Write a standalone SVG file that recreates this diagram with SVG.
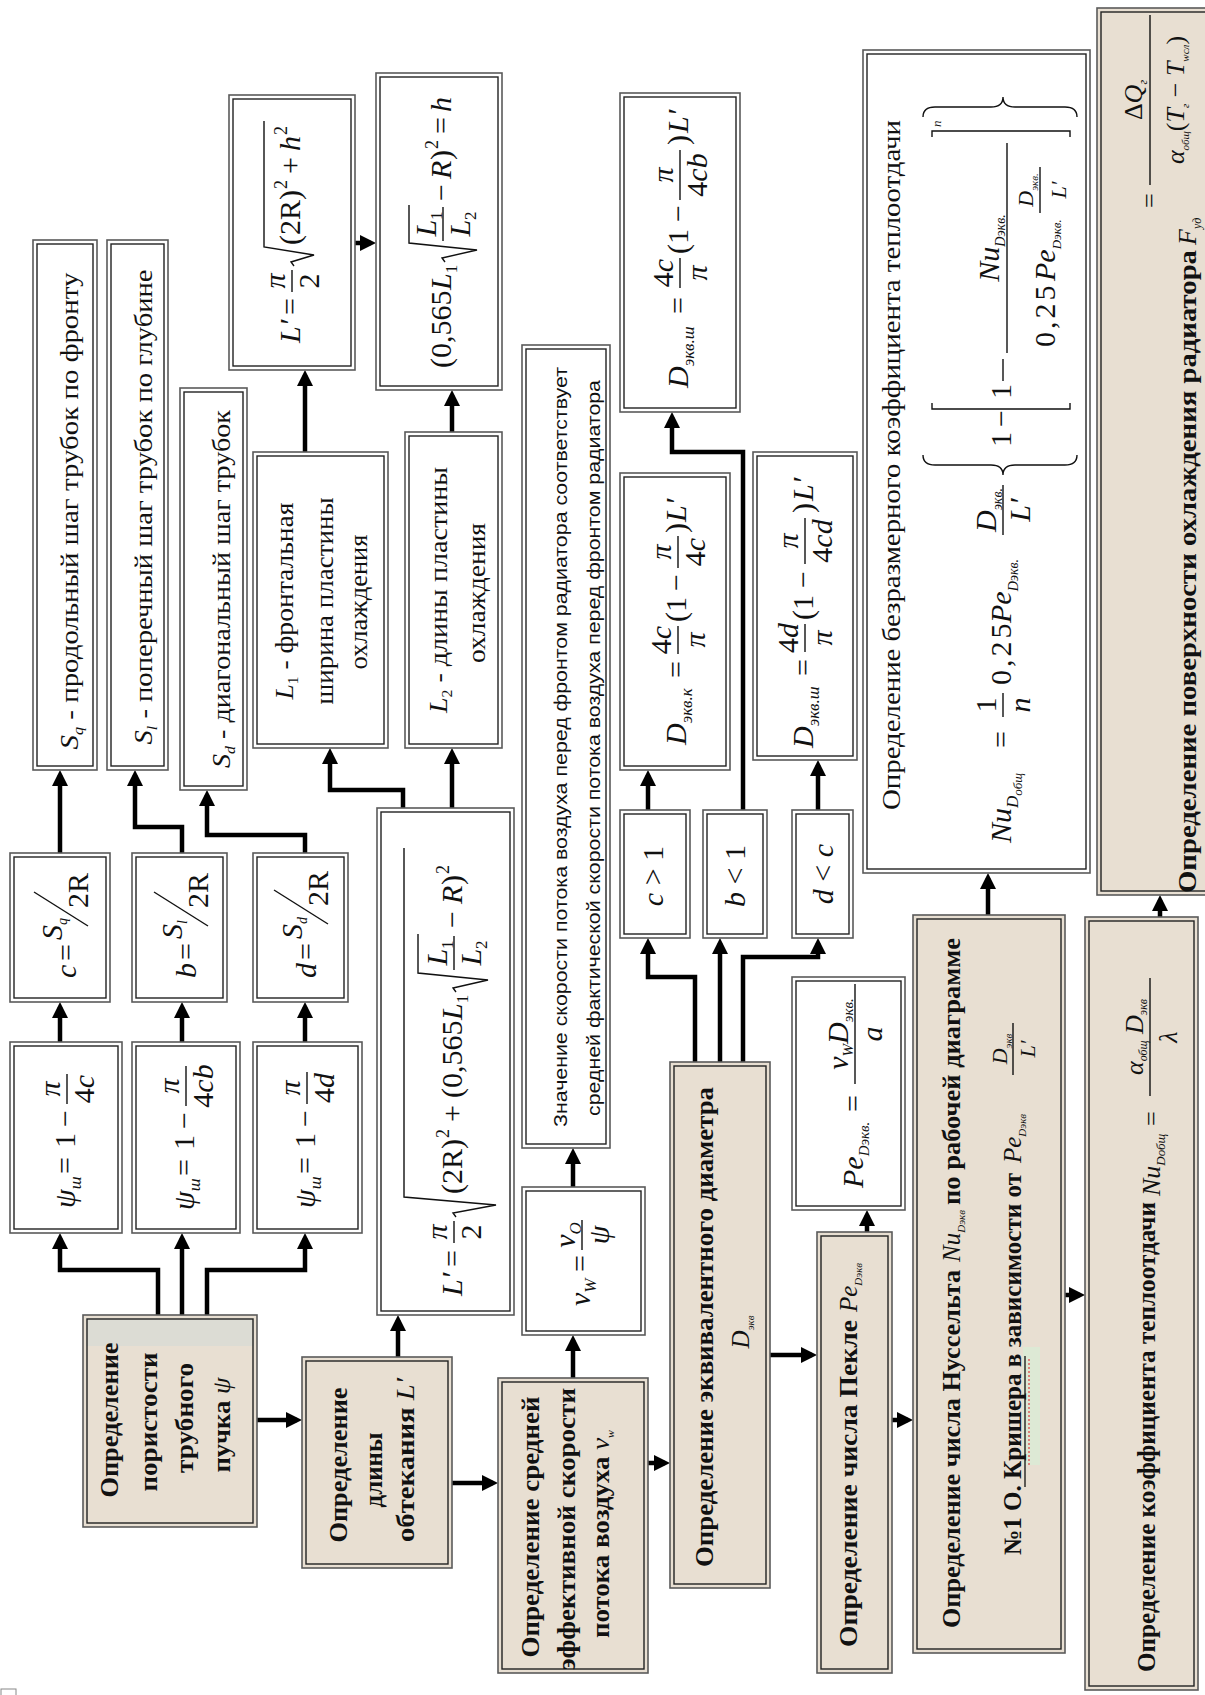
<svg xmlns="http://www.w3.org/2000/svg" width="1205" height="1695" viewBox="0 0 1205 1695">
<defs>
<style>
.o{fill:#fff;stroke:#5a5a5a;stroke-width:1.6}
.tan .o{fill:#e8dfd2}
.i{fill:none;stroke:#222;stroke-width:1.4}
.t{font-family:"Liberation Serif","DejaVu Serif",serif;font-size:25px;fill:#111}
.tb{font-family:"Liberation Serif","DejaVu Serif",serif;font-size:25px;font-weight:bold;fill:#111}
.ts{font-family:"Liberation Sans",Arial,sans-serif;font-size:19px;fill:#111}
.f{font-family:"Liberation Serif","DejaVu Serif",serif;font-size:30px;fill:#111}
.m{font-style:italic}
.fl{stroke:#111;stroke-width:1.4;fill:none}
.conn path{fill:none;stroke:#000;stroke-width:4.5;marker-end:url(#ah)}
</style>
<marker id="ah" viewBox="0 0 16 16" refX="11" refY="8" markerWidth="16" markerHeight="16" markerUnits="userSpaceOnUse" orient="auto"><path d="M0,0 L16,8 L0,16 z" fill="#000"/></marker>
</defs>
<rect x="0" y="0" width="1205" height="1695" fill="#fff"/>

<g id="connectors" class="conn">
<path d="M158,1315 V1270 H60 V1238"/>
<path d="M182,1315 V1238"/>
<path d="M207,1315 V1270 H305 V1238"/>
<path d="M60,1042 V1007"/>
<path d="M182,1042 V1007"/>
<path d="M305,1042 V1007"/>
<path d="M60,853 V775"/>
<path d="M182,853 V827 H135 V775"/>
<path d="M305,853 V835 H207 V795"/>
<path d="M257,1420 H297"/>
<path d="M398,1357 V1320"/>
<path d="M403,808 V790 H330 V753"/>
<path d="M452,808 V753"/>
<path d="M305,452 V375"/>
<path d="M452,432 V395"/>
<path d="M355,243 H371"/>
<path d="M452,1483 H493"/>
<path d="M573,1378 V1340"/>
<path d="M573,1187 V1153"/>
<path d="M648,1463 H665"/>
<path d="M695,1062 V977 H648 V943"/>
<path d="M720,1062 V943"/>
<path d="M743,1062 V957 H818 V943"/>
<path d="M648,810 V775"/>
<path d="M743,810 V452 H672 V417"/>
<path d="M818,810 V765"/>
<path d="M770,1355 H812"/>
<path d="M867,1232 V1215"/>
<path d="M892,1420 H908"/>
<path d="M988,915 V878"/>
<path d="M1065,1295 H1080"/>
<path d="M1160,917 V900"/>
</g>

<g id="n-sq"><rect class="o" x="33" y="240" width="64" height="530"/><rect class="i" x="37" y="244" width="56" height="522"/>
<text class="t" text-anchor="middle" transform="translate(78,511) rotate(-90)" textLength="477" lengthAdjust="spacingAndGlyphs"><tspan font-style="italic">S</tspan><tspan font-style="italic" font-size="14" dy="5">q</tspan><tspan dy="-5"> - продольный шаг трубок по фронту</tspan></text></g>
<g id="n-sl"><rect class="o" x="107" y="240" width="61" height="530"/><rect class="i" x="111" y="244" width="53" height="522"/>
<text class="t" text-anchor="middle" transform="translate(152,507) rotate(-90)" textLength="475" lengthAdjust="spacingAndGlyphs"><tspan font-style="italic">S</tspan><tspan font-style="italic" font-size="14" dy="5">l</tspan><tspan dy="-5"> - поперечный шаг трубок по глубине</tspan></text></g>
<g id="n-sd"><rect class="o" x="180" y="388" width="67" height="402"/><rect class="i" x="184" y="392" width="59" height="394"/>
<text class="t" text-anchor="middle" transform="translate(230,589) rotate(-90)" textLength="358" lengthAdjust="spacingAndGlyphs"><tspan font-style="italic">S</tspan><tspan font-style="italic" font-size="14" dy="5">d</tspan><tspan dy="-5"> - диагональный шаг трубок</tspan></text></g>

<g id="n-l1"><rect class="o" x="253" y="452" width="135" height="296"/><rect class="i" x="257" y="456" width="127" height="288"/>
<text class="t" text-anchor="middle" transform="translate(293,601) rotate(-90)" textLength="197" lengthAdjust="spacingAndGlyphs"><tspan font-style="italic">L</tspan><tspan font-size="14" dy="5">1</tspan><tspan dy="-5"> - фронтальная</tspan></text>
<text class="t" text-anchor="middle" transform="translate(333,601) rotate(-90)" textLength="207" lengthAdjust="spacingAndGlyphs">ширина пластины</text>
<text class="t" text-anchor="middle" transform="translate(367,602) rotate(-90)" textLength="135" lengthAdjust="spacingAndGlyphs">охлаждения</text></g>
<g id="n-l2"><rect class="o" x="405" y="432" width="97" height="316"/><rect class="i" x="409" y="436" width="89" height="308"/>
<text class="t" text-anchor="middle" transform="translate(447,590) rotate(-90)" textLength="246" lengthAdjust="spacingAndGlyphs"><tspan font-style="italic">L</tspan><tspan font-size="14" dy="5">2</tspan><tspan dy="-5"> - длины пластины</tspan></text>
<text class="t" text-anchor="middle" transform="translate(485,593) rotate(-90)" textLength="140" lengthAdjust="spacingAndGlyphs">охлаждения</text></g>

<g id="n-lh"><rect class="o" x="229" y="95" width="126" height="275"/><rect class="i" x="233" y="99" width="118" height="267"/>
<g class="f" transform="translate(300,343) rotate(-90)">
<text class="m">L′</text><text x="28">=</text>
<line class="fl" x1="51" y1="-8" x2="73" y2="-8"/>
<text class="m" x="62" y="-15" text-anchor="middle">π</text><text x="62" y="19" text-anchor="middle">2</text>
<path class="fl" d="M77,-6 L81,-9 L88,14 L96,-36 L222,-36"/>
<text x="98">(2R)</text><text x="154" y="-13" style="font-size:18px">2</text>
<text x="169">+</text><text class="m" x="192">h</text><text x="208" y="-13" style="font-size:18px">2</text>
</g></g>

<g id="n-h"><rect class="o" x="376" y="73" width="126" height="317"/><rect class="i" x="380" y="77" width="118" height="309"/>
<g class="f" transform="translate(451,368) rotate(-90)">
<text>(0,565</text>
<text class="m" x="78">L<tspan style="font-size:17px;font-style:normal" dy="6">1</tspan></text>
<path class="fl" d="M106,-6 L110,-9 L118,26 L125,-42 L163,-42"/>
<line class="fl" x1="127" y1="-8" x2="161" y2="-8"/>
<text class="m" x="144" y="-15" text-anchor="middle">L<tspan style="font-size:17px;font-style:normal" dy="6">1</tspan></text>
<text class="m" x="144" y="19" text-anchor="middle">L<tspan style="font-size:17px;font-style:normal" dy="6">2</tspan></text>
<text x="167">−</text><text class="m" x="189">R</text><text x="208">)</text>
<text x="219" y="-13" style="font-size:18px">2</text>
<text x="234">=</text><text class="m" x="256">h</text>
</g></g>

<g id="n-lbig"><rect class="o" x="377" y="808" width="137" height="507"/><rect class="i" x="381" y="812" width="129" height="499"/>
<g class="f" transform="translate(462,1296) rotate(-90)">
<text class="m">L′</text><text x="29">=</text>
<line class="fl" x1="53" y1="-8" x2="75" y2="-8"/>
<text class="m" x="64" y="-15" text-anchor="middle">π</text><text x="64" y="19" text-anchor="middle">2</text>
<path class="fl" d="M79,-6 L83,-9 L91,34 L99,-58 L448,-58"/>
<text x="102">(2R)</text><text x="158" y="-13" style="font-size:18px">2</text>
<text x="174">+</text><text x="198">(0,565</text>
<text class="m" x="276">L<tspan style="font-size:17px;font-style:normal" dy="6">1</tspan></text>
<path class="fl" d="M304,-6 L308,-9 L316,26 L323,-44 L362,-44"/>
<line class="fl" x1="326" y1="-8" x2="360" y2="-8"/>
<text class="m" x="343" y="-15" text-anchor="middle">L<tspan style="font-size:17px;font-style:normal" dy="6">1</tspan></text>
<text class="m" x="343" y="19" text-anchor="middle">L<tspan style="font-size:17px;font-style:normal" dy="6">2</tspan></text>
<text x="368">−</text><text class="m" x="392">R</text><text x="411">)</text>
<text x="422" y="-13" style="font-size:18px">2</text>
</g></g>

<g id="n-psi-c"><rect class="o" x="10" y="1042" width="112" height="191"/><rect class="i" x="14" y="1046" width="104" height="183"/>
<g class="f" transform="translate(75,1208) rotate(-90)">
<text class="m">ψ<tspan style="font-size:17px" dy="6">ш</tspan></text><text x="34">=</text><text x="60">1</text><text x="81">−</text>
<line class="fl" x1="104" y1="-8" x2="134" y2="-8"/>
<text class="m" x="119" y="-15" text-anchor="middle">π</text>
<text x="119" y="19" text-anchor="middle">4<tspan class="m">c</tspan></text>
</g></g>
<g id="n-psi-b"><rect class="o" x="132" y="1042" width="108" height="191"/><rect class="i" x="136" y="1046" width="100" height="183"/>
<g class="f" transform="translate(194,1210) rotate(-90)">
<text class="m">ψ<tspan style="font-size:17px" dy="6">ш</tspan></text><text x="34">=</text><text x="60">1</text><text x="81">−</text>
<line class="fl" x1="104" y1="-8" x2="144" y2="-8"/>
<text class="m" x="124" y="-15" text-anchor="middle">π</text>
<text x="124" y="19" text-anchor="middle">4<tspan class="m">cb</tspan></text>
</g></g>
<g id="n-psi-d"><rect class="o" x="253" y="1042" width="109" height="191"/><rect class="i" x="257" y="1046" width="101" height="183"/>
<g class="f" transform="translate(315,1208) rotate(-90)">
<text class="m">ψ<tspan style="font-size:17px" dy="6">ш</tspan></text><text x="34">=</text><text x="60">1</text><text x="81">−</text>
<line class="fl" x1="104" y1="-8" x2="136" y2="-8"/>
<text class="m" x="120" y="-15" text-anchor="middle">π</text>
<text x="120" y="19" text-anchor="middle">4<tspan class="m">d</tspan></text>
</g></g>

<g id="n-c"><rect class="o" x="10" y="853" width="100" height="149"/><rect class="i" x="14" y="857" width="92" height="141"/>
<g class="f" transform="translate(76,978) rotate(-90)">
<text class="m">c</text><text x="17">=</text>
<text class="m" x="38" y="-14">S<tspan style="font-size:14px" dy="5">q</tspan></text>
<line class="fl" x1="52" y1="12" x2="86" y2="-42"/>
<text x="70" y="12">2R</text>
</g></g>
<g id="n-b"><rect class="o" x="132" y="853" width="95" height="149"/><rect class="i" x="136" y="857" width="87" height="141"/>
<g class="f" transform="translate(196,978) rotate(-90)">
<text class="m">b</text><text x="18">=</text>
<text class="m" x="39" y="-14">S<tspan style="font-size:14px" dy="5">l</tspan></text>
<line class="fl" x1="52" y1="12" x2="86" y2="-42"/>
<text x="70" y="12">2R</text>
</g></g>
<g id="n-d"><rect class="o" x="253" y="853" width="95" height="149"/><rect class="i" x="257" y="857" width="87" height="141"/>
<g class="f" transform="translate(316,978) rotate(-90)">
<text class="m">d</text><text x="18">=</text>
<text class="m" x="39" y="-14">S<tspan style="font-size:14px" dy="5">d</tspan></text>
<line class="fl" x1="54" y1="12" x2="88" y2="-42"/>
<text x="72" y="12">2R</text>
</g></g>

<g id="n-porosity" class="tan"><rect class="o" x="83" y="1315" width="174" height="212"/><rect x="86" y="1318" width="168" height="28" fill="#dcdcd4"/><rect class="i" x="87" y="1319" width="166" height="204"/>
<text class="tb" text-anchor="middle" transform="translate(118,1420) rotate(-90)" textLength="155" lengthAdjust="spacingAndGlyphs">Определение</text>
<text class="tb" text-anchor="middle" transform="translate(157,1422) rotate(-90)" textLength="139" lengthAdjust="spacingAndGlyphs">пористости</text>
<text class="tb" text-anchor="middle" transform="translate(193,1418) rotate(-90)" textLength="110" lengthAdjust="spacingAndGlyphs">трубного</text>
<text class="tb" text-anchor="middle" transform="translate(230,1425) rotate(-90)" textLength="95" lengthAdjust="spacingAndGlyphs">пучка <tspan font-style="italic" font-weight="normal">ψ</tspan></text>
</g>
<g id="n-length" class="tan"><rect class="o" x="302" y="1357" width="150" height="211"/><rect class="i" x="306" y="1361" width="142" height="203"/>
<text class="tb" text-anchor="middle" transform="translate(347,1465) rotate(-90)" textLength="155" lengthAdjust="spacingAndGlyphs">Определение</text>
<text class="tb" text-anchor="middle" transform="translate(382,1470) rotate(-90)">длины</text>
<text class="tb" text-anchor="middle" transform="translate(414,1460) rotate(-90)" textLength="164" lengthAdjust="spacingAndGlyphs">обтекания <tspan font-style="italic" font-weight="normal">L′</tspan></text>
</g>
<g id="n-vw" class="tan"><rect class="o" x="498" y="1378" width="150" height="295"/><rect class="i" x="502" y="1382" width="142" height="287"/>
<text class="tb" text-anchor="middle" transform="translate(539,1527) rotate(-90)" textLength="261" lengthAdjust="spacingAndGlyphs">Определение средней</text>
<text class="tb" text-anchor="middle" transform="translate(575,1529) rotate(-90)" textLength="282" lengthAdjust="spacingAndGlyphs">эффективной скорости</text>
<text class="tb" text-anchor="middle" transform="translate(609,1534) rotate(-90)" textLength="208" lengthAdjust="spacingAndGlyphs">потока воздуха <tspan font-style="italic" font-weight="normal">v</tspan><tspan font-style="italic" font-weight="normal" font-size="11" dy="5">w</tspan></text>
</g>
<g id="n-dekv" class="tan"><rect class="o" x="670" y="1062" width="100" height="526"/><rect class="i" x="674" y="1066" width="92" height="518"/>
<text class="tb" text-anchor="middle" transform="translate(713,1327) rotate(-90)" textLength="480" lengthAdjust="spacingAndGlyphs">Определение эквивалентного диаметра</text>
<text class="t" font-style="italic" text-anchor="middle" transform="translate(749,1332) rotate(-90)">D<tspan font-size="11" dy="5">экв</tspan></text>
</g>
<g id="n-pe" class="tan"><rect class="o" x="817" y="1232" width="75" height="441"/><rect class="i" x="821" y="1236" width="67" height="433"/>
<text class="tb" transform="translate(857,1647) rotate(-90)" textLength="327" lengthAdjust="spacingAndGlyphs">Определение числа Пекле</text>
<text class="t" font-style="italic" transform="translate(857,1312) rotate(-90)">Pe<tspan font-size="11" dy="5">Dэкв</tspan></text>
</g>
<g id="n-nusselt" class="tan"><rect class="o" x="913" y="915" width="152" height="738"/><rect class="i" x="917" y="919" width="144" height="730"/>
<text class="tb" transform="translate(960,1628) rotate(-90)" textLength="358" lengthAdjust="spacingAndGlyphs">Определение числа Нуссельта</text>
<text class="t" font-style="italic" transform="translate(960,1262) rotate(-90)">Nu<tspan font-size="11" dy="5">Dэкв</tspan></text>
<text class="tb" transform="translate(960,1205) rotate(-90)" textLength="267" lengthAdjust="spacingAndGlyphs">по рабочей диаграмме</text>
<rect x="1023" y="1347" width="17" height="118" fill="#d9ecd5" opacity="0.7"/>
<text class="tb" transform="translate(1021,1555) rotate(-90)" textLength="382" lengthAdjust="spacingAndGlyphs">№1 О. Кришера в зависимости от</text>
<line x1="1025" y1="1487" x2="1025" y2="1356" stroke="#111" stroke-width="1.3"/>
<line x1="1029" y1="1465" x2="1029" y2="1358" stroke="#e04848" stroke-width="1.3" stroke-dasharray="2,2"/>
<text class="t" font-style="italic" font-size="24" transform="translate(1021,1163) rotate(-90)">Pe<tspan font-size="11" dy="5">Dэкв</tspan></text>
<g class="f" style="font-size:22px" transform="translate(1021,1075) rotate(-90)">
<line class="fl" x1="0" y1="-8" x2="52" y2="-8"/>
<text class="m" x="26" y="-14" text-anchor="middle">D<tspan style="font-size:11px" dy="5">экв</tspan></text>
<text class="m" x="26" y="14" text-anchor="middle">L′</text>
</g>
</g>
<g id="n-alpha" class="tan"><rect class="o" x="1085" y="917" width="113" height="773"/><rect class="i" x="1089" y="921" width="105" height="765"/>
<text class="tb" transform="translate(1155,1672) rotate(-90)" textLength="470" lengthAdjust="spacingAndGlyphs">Определение коэффициента теплоотдачи</text>
<g class="f" style="font-size:26px" transform="translate(1160,1196) rotate(-90)">
<text class="m">Nu<tspan style="font-size:13px" dy="5">Dобщ</tspan></text>
<text x="70">=</text>
<line class="fl" x1="100" y1="-10" x2="218" y2="-10"/>
<text class="m" x="159" y="-17" text-anchor="middle">α<tspan style="font-size:12px" dy="4">общ</tspan><tspan dy="-4"> D</tspan><tspan style="font-size:12px" dy="4">экв</tspan></text>
<text class="m" x="159" y="17" text-anchor="middle">λ</text>
</g>
</g>
<g id="n-F" class="tan"><rect class="o" x="1097" y="8" width="130" height="887"/><rect class="i" x="1101" y="12" width="122" height="879"/>
<text class="tb" transform="translate(1196,893) rotate(-90)" textLength="643" lengthAdjust="spacingAndGlyphs">Определение поверхности охлаждения радиатора</text>
<g class="f" style="font-size:26px" transform="translate(1196,245) rotate(-90)">
<text class="m">F<tspan style="font-size:12px" dy="5">уд</tspan></text>
<text x="37" y="-38">=</text>
<line class="fl" x1="60" y1="-46" x2="230" y2="-46"/>
<text x="145" y="-54" text-anchor="middle">Δ<tspan class="m">Q</tspan><tspan class="m" style="font-size:12px" dy="5">г</tspan></text>
<text x="145" y="-12" text-anchor="middle"><tspan class="m">α</tspan><tspan class="m" style="font-size:11px" dy="5">общ</tspan><tspan dy="-5">(</tspan><tspan class="m">T</tspan><tspan class="m" style="font-size:11px" dy="5">г</tspan><tspan dy="-5"> − </tspan><tspan class="m">T</tspan><tspan class="m" style="font-size:11px" dy="5">wсл</tspan><tspan dy="-5">)</tspan></text>
</g>
</g>

<g id="n-znach"><rect class="o" x="522" y="345" width="88" height="803"/><rect class="i" x="526" y="349" width="80" height="795"/>
<text class="ts" text-anchor="middle" transform="translate(567,747) rotate(-90)" textLength="760" lengthAdjust="spacingAndGlyphs">Значение скорости потока воздуха перед фронтом радиатора соответствует</text>
<text class="ts" text-anchor="middle" transform="translate(600,748) rotate(-90)" textLength="736" lengthAdjust="spacingAndGlyphs">средней фактической скорости потока воздуха перед фронтом радиатора</text>
</g>

<g id="n-vwf"><rect class="o" x="522" y="1187" width="123" height="148"/><rect class="i" x="526" y="1191" width="115" height="140"/>
<g class="f" transform="translate(590,1306) rotate(-90)">
<text class="m">v<tspan style="font-size:17px" dy="6">W</tspan></text>
<text x="34">=</text>
<line class="fl" x1="56" y1="-8" x2="86" y2="-8"/>
<text class="m" x="71" y="-15" text-anchor="middle">v<tspan style="font-size:17px" dy="6">O</tspan></text>
<text class="m" x="71" y="19" text-anchor="middle">ψ</text>
</g></g>

<g id="n-dk"><rect class="o" x="620" y="473" width="110" height="297"/><rect class="i" x="624" y="477" width="102" height="289"/>
<g class="f" transform="translate(686,745) rotate(-90)">
<text class="m">D<tspan style="font-size:17px" dy="6">экв.к</tspan></text>
<text x="67">=</text>
<line class="fl" x1="91" y1="-8" x2="119" y2="-8"/>
<text x="105" y="-15" text-anchor="middle">4<tspan class="m">c</tspan></text>
<text class="m" x="105" y="19" text-anchor="middle">π</text>
<text x="123">(1</text><text x="154">−</text>
<line class="fl" x1="177" y1="-8" x2="209" y2="-8"/>
<text class="m" x="193" y="-15" text-anchor="middle">π</text>
<text x="193" y="19" text-anchor="middle">4<tspan class="m">c</tspan></text>
<text x="212">)</text><text class="m" x="223">L′</text>
</g></g>
<g id="n-dsh1"><rect class="o" x="620" y="93" width="120" height="319"/><rect class="i" x="624" y="97" width="112" height="311"/>
<g class="f" transform="translate(688,388) rotate(-90)">
<text class="m">D<tspan style="font-size:17px" dy="6">экв.ш</tspan></text>
<text x="74">=</text>
<line class="fl" x1="100" y1="-8" x2="130" y2="-8"/>
<text x="115" y="-15" text-anchor="middle">4<tspan class="m">c</tspan></text>
<text class="m" x="115" y="19" text-anchor="middle">π</text>
<text x="134">(1</text><text x="166">−</text>
<line class="fl" x1="188" y1="-8" x2="238" y2="-8"/>
<text class="m" x="213" y="-15" text-anchor="middle">π</text>
<text x="213" y="19" text-anchor="middle">4<tspan class="m">cb</tspan></text>
<text x="243">)</text><text class="m" x="255">L′</text>
</g></g>
<g id="n-dsh2"><rect class="o" x="753" y="452" width="104" height="308"/><rect class="i" x="757" y="456" width="96" height="300"/>
<g class="f" transform="translate(813,748) rotate(-90)">
<text class="m">D<tspan style="font-size:17px" dy="6">экв.ш</tspan></text>
<text x="72">=</text>
<line class="fl" x1="96" y1="-8" x2="124" y2="-8"/>
<text x="110" y="-15" text-anchor="middle">4<tspan class="m">d</tspan></text>
<text class="m" x="110" y="19" text-anchor="middle">π</text>
<text x="128">(1</text><text x="160">−</text>
<line class="fl" x1="184" y1="-8" x2="230" y2="-8"/>
<text class="m" x="207" y="-15" text-anchor="middle">π</text>
<text x="207" y="19" text-anchor="middle">4<tspan class="m">cd</tspan></text>
<text x="235">)</text><text class="m" x="247">L′</text>
</g></g>

<g id="n-cgt1"><rect class="o" x="620" y="810" width="70" height="128"/><rect class="i" x="624" y="814" width="62" height="120"/>
<text class="f" text-anchor="middle" transform="translate(663,876) rotate(-90)"><tspan class="m">c</tspan> &gt; 1</text></g>
<g id="n-blt1"><rect class="o" x="703" y="810" width="64" height="128"/><rect class="i" x="707" y="814" width="56" height="120"/>
<text class="f" text-anchor="middle" transform="translate(745,876) rotate(-90)"><tspan class="m">b</tspan> &lt; 1</text></g>
<g id="n-dltc"><rect class="o" x="792" y="810" width="61" height="128"/><rect class="i" x="796" y="814" width="53" height="120"/>
<text class="f" text-anchor="middle" transform="translate(833,874) rotate(-90)"><tspan class="m">d</tspan> &lt; <tspan class="m">c</tspan></text></g>

<g id="n-pef"><rect class="o" x="792" y="977" width="113" height="233"/><rect class="i" x="796" y="981" width="105" height="225"/>
<g class="f" transform="translate(863,1188) rotate(-90)">
<text class="m">Pe<tspan style="font-size:15px" dy="6">Dэкв.</tspan></text>
<text x="76">=</text>
<line class="fl" x1="104" y1="-8" x2="204" y2="-8"/>
<text class="m" x="154" y="-15" text-anchor="middle">v<tspan style="font-size:15px" dy="5">W</tspan><tspan dy="-5">D</tspan><tspan style="font-size:15px" dy="5">экв.</tspan></text>
<text class="m" x="154" y="19" text-anchor="middle">a</text>
</g></g>

<g id="n-nu"><rect class="o" x="863" y="50" width="227" height="823"/><rect class="i" x="867" y="54" width="219" height="815"/>
<text class="t" text-anchor="middle" transform="translate(900,465) rotate(-90)" textLength="690" lengthAdjust="spacingAndGlyphs">Определение безразмерного коэффициента теплоотдачи</text>
<g class="f" transform="translate(1011,843) rotate(-90)">
<text class="m">Nu<tspan style="font-size:17px" dy="7">D</tspan><tspan style="font-size:13px" dy="4">общ</tspan></text>
<text x="95">=</text>
<line class="fl" x1="126" y1="-8" x2="150" y2="-8"/>
<text x="138" y="-15" text-anchor="middle">1</text>
<text class="m" x="138" y="19" text-anchor="middle">n</text>
<text x="158" letter-spacing="3">0,25</text>
<text class="m" x="220">Pe<tspan style="font-size:14px" dy="7">Dэкв.</tspan></text>
<line class="fl" x1="308" y1="-8" x2="358" y2="-8"/>
<text class="m" x="333" y="-15" text-anchor="middle">D<tspan style="font-size:14px" dy="6">экв.</tspan></text>
<text class="m" x="333" y="19" text-anchor="middle">L′</text>
<path class="fl" d="M388,-88 Q378,-88 378,-76 L378,-20 Q378,-8 368,-8 Q378,-8 378,4 L378,54 Q378,66 388,66"/>
<text x="396">1</text><text x="416">−</text>
<path class="fl" d="M440,-79 L434,-79 L434,59 L440,59"/>
<text x="444">1</text>
<line class="fl" x1="462" y1="-8" x2="484" y2="-8"/>
<line class="fl" x1="490" y1="-4" x2="700" y2="-4"/>
<text class="m" x="595" y="-12" text-anchor="middle">Nu<tspan style="font-size:14px" dy="6">Dэкв.</tspan></text>
<text x="496" y="44" letter-spacing="3">0,25</text>
<text class="m" x="562" y="44">Pe<tspan style="font-size:13px" dy="6">Dэкв.</tspan></text>
<line class="fl" x1="630" y1="29" x2="676" y2="29"/>
<text class="m" x="653" y="22" text-anchor="middle" style="font-size:22px">D<tspan style="font-size:11px" dy="5">экв.</tspan></text>
<text class="m" x="653" y="55" text-anchor="middle" style="font-size:22px">L′</text>
<path class="fl" d="M706,-79 L712,-79 L712,59 L706,59"/>
<text class="m" x="716" y="-70" style="font-size:13px">n</text>
<path class="fl" d="M726,-88 Q736,-88 736,-76 L736,-20 Q736,-8 746,-8 Q736,-8 736,4 L736,54 Q736,66 726,66"/>
</g></g>

<rect x="1" y="1689" width="15" height="8" fill="none" stroke="#888" stroke-width="1"/>
</svg>
